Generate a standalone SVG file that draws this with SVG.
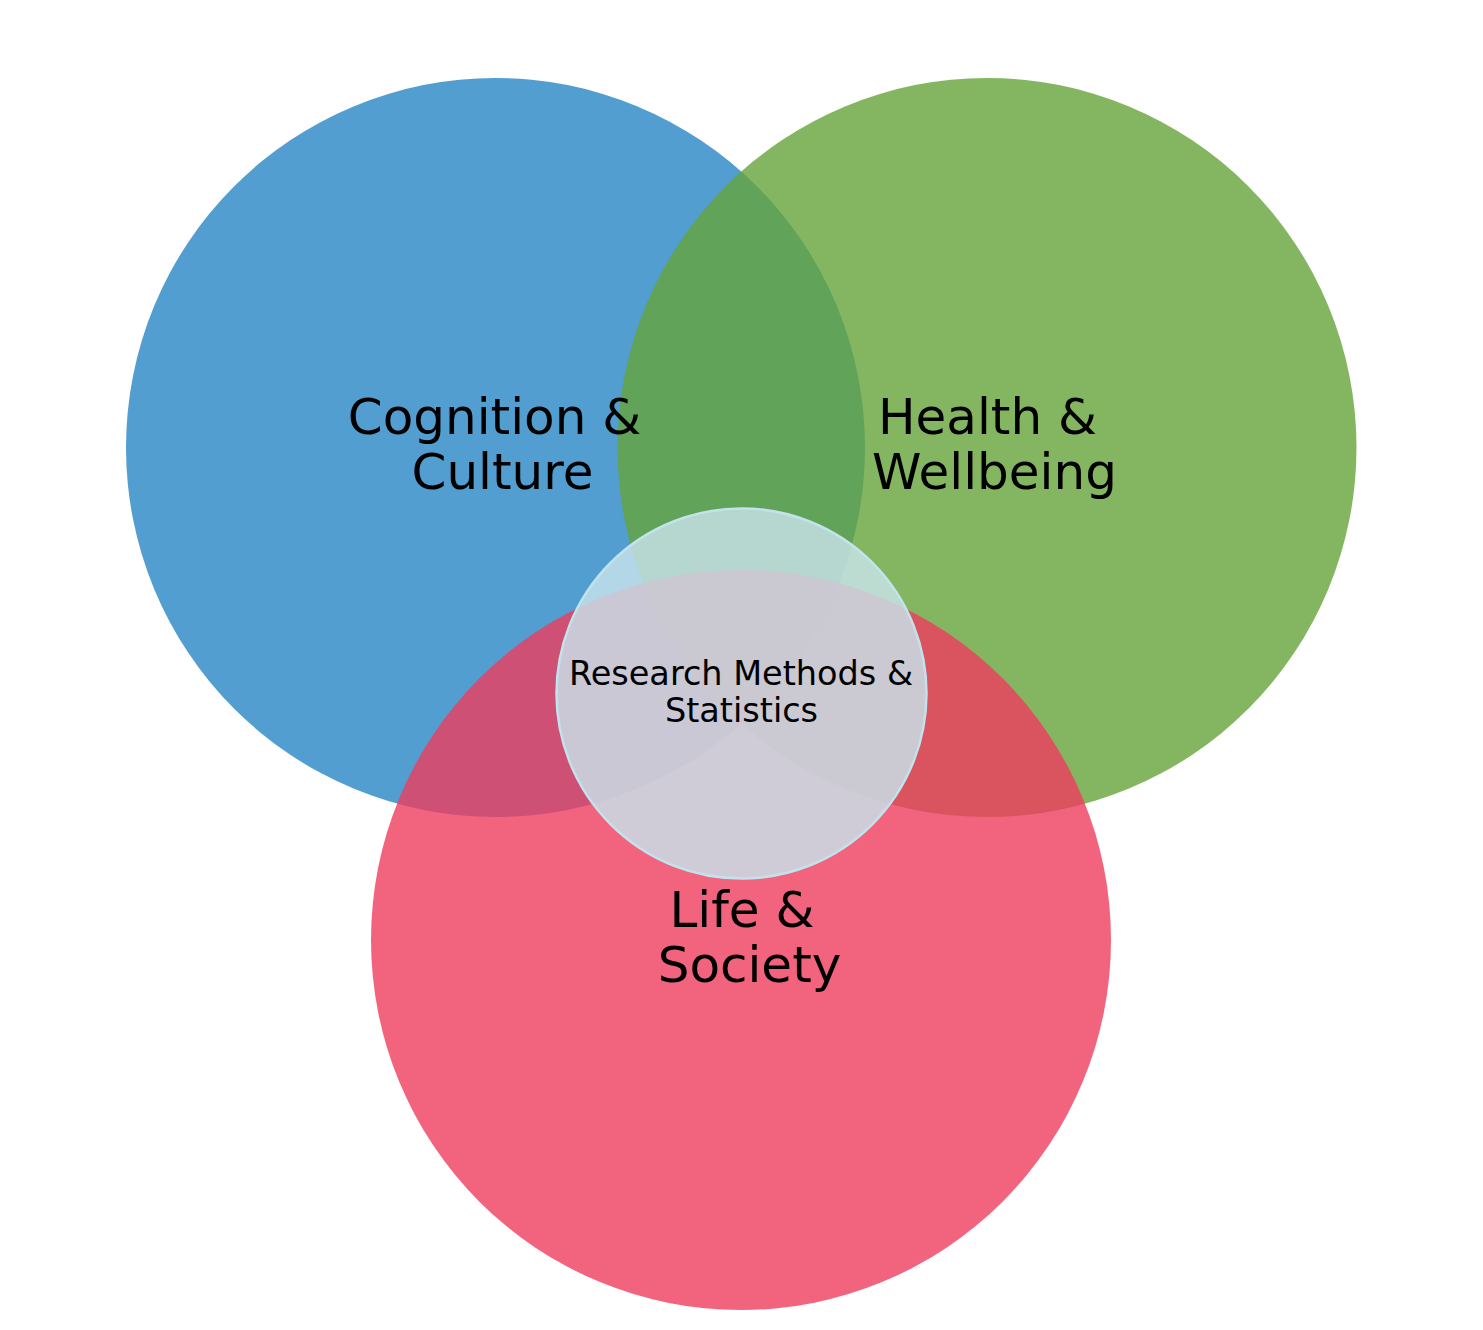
<svg xmlns="http://www.w3.org/2000/svg" width="1483" height="1330" viewBox="0 0 1483 1330">
  <style>
    .set { fill-opacity: 0.8; }
    .blue { fill: #2786C5; }
    .green { fill: #65A43A; }
    .red { fill: #EF3C5E; }
    .core { fill: #C8E3EA; fill-opacity: 0.82; stroke: #C2E2EC; stroke-width: 2.5; }
    .big { font-family: "DejaVu Sans", sans-serif; font-size: 50px; fill: #000; text-anchor: middle; }
    .small { font-family: "DejaVu Sans", sans-serif; font-size: 33.5px; fill: #000; text-anchor: middle; }
  </style>
  <rect width="1483" height="1330" fill="#ffffff"/>
  <g id="node-cognition-culture">
    <circle class="set blue" cx="495.5" cy="447.5" r="369.5"/>
  </g>
  <g id="node-health-wellbeing">
    <circle class="set green" cx="987" cy="447.5" r="369.5"/>
  </g>
  <g id="node-life-society">
    <circle class="set red" cx="741" cy="940" r="370"/>
  </g>
  <g id="node-research-methods">
    <circle class="core" cx="741.5" cy="693.5" r="185"/>
  </g>
  <g id="labels">
    <text id="label-cognition-culture" class="big"><tspan x="494.5" y="434">Cognition &amp;</tspan><tspan x="502.5" y="489">Culture</tspan></text>
    <text id="label-health-wellbeing" class="big"><tspan x="987.5" y="434">Health &amp;</tspan><tspan x="994.5" y="489">Wellbeing</tspan></text>
    <text id="label-life-society" class="big"><tspan x="742" y="927">Life &amp;</tspan><tspan x="749.5" y="982">Society</tspan></text>
    <text id="label-research-methods" class="small"><tspan x="741" y="685">Research Methods &amp;</tspan><tspan x="741.5" y="722">Statistics</tspan></text>
  </g>
</svg>
